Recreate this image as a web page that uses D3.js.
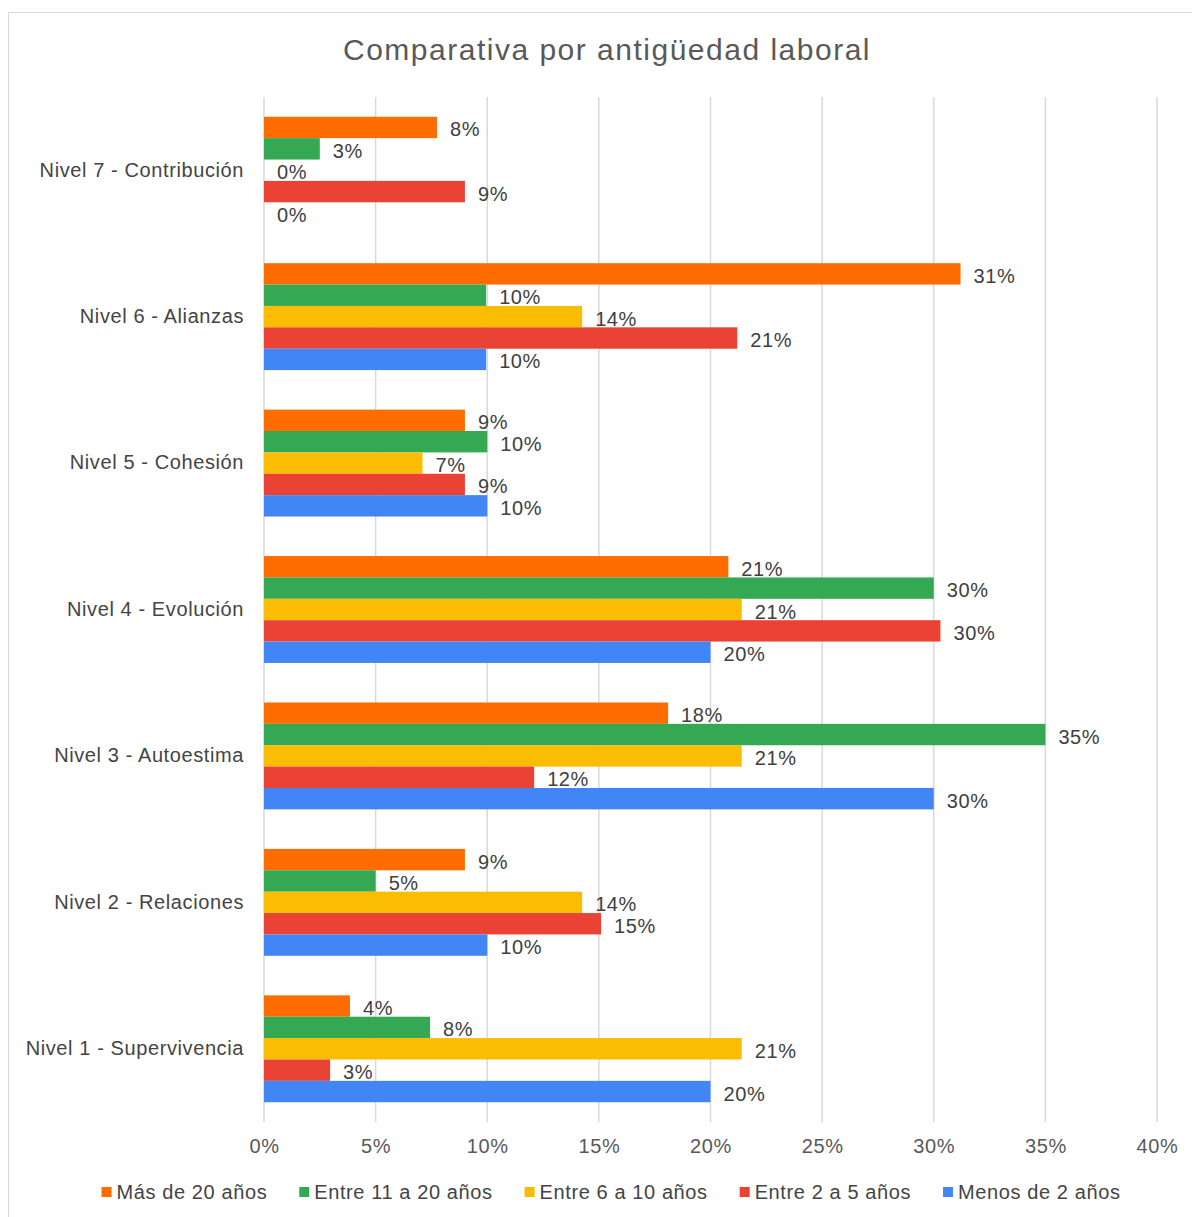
<!DOCTYPE html>
<html>
<head>
<meta charset="utf-8">
<script src="https://cdnjs.cloudflare.com/ajax/libs/d3/7.8.5/d3.min.js"></script>
<style>
  body { margin: 0; background: #fff; }
  svg text { font-family: "Liberation Sans", Arial, sans-serif; }
</style>
</head>
<body>
<div class="chart"></div>
<script>
// categories, top to bottom
var categories = ['Nivel 7 - Contribución', 'Nivel 6 - Alianzas', 'Nivel 5 - Cohesión',
    'Nivel 4 - Evolución', 'Nivel 3 - Autoestima', 'Nivel 2 - Relaciones', 'Nivel 1 - Supervivencia'];

// series names (bar order inside each group)
var seriesNames = ['Más de 20 años', 'Entre 11 a 20 años', 'Entre 6 a 10 años', 'Entre 2 a 5 años', 'Menos de 2 años'];
var seriesColors = ['#ff6d01', '#34a853', '#fbbc04', '#ea4335', '#4285f4'];

// values in percent
var masDe20 = [7.75, 31.2, 9.0, 20.8, 18.1, 9.0, 3.85];
var entre11a20 = [2.5, 9.95, 10.0, 30.0, 35.0, 5.0, 7.44];
var entre6a10 = [0, 14.25, 7.1, 21.4, 21.4, 14.25, 21.4];
var entre2a5 = [9.0, 21.2, 9.0, 30.3, 12.1, 15.1, 2.96];
var menosDe2 = [0, 9.95, 10.0, 20.0, 30.0, 10.0, 20.0];

// data labels as printed on the chart
var masDe20Labels = ['8%', '31%', '9%', '21%', '18%', '9%', '4%'];
var entre11a20Labels = ['3%', '10%', '10%', '30%', '35%', '5%', '8%'];
var entre6a10Labels = ['0%', '14%', '7%', '21%', '21%', '14%', '21%'];
var entre2a5Labels = ['9%', '21%', '9%', '30%', '12%', '15%', '3%'];
var menosDe2Labels = ['0%', '10%', '10%', '20%', '30%', '10%', '20%'];

var xTicks = [0, 5, 10, 15, 20, 25, 30, 35, 40];

var seriesValues = [masDe20, entre11a20, entre6a10, entre2a5, menosDe2];
var seriesLabels = [masDe20Labels, entre11a20Labels, entre6a10Labels, entre2a5Labels, menosDe2Labels];

var width = 1192;
var height = 1217;
var plotLeft = 264;
var plotRight = 1157;
var plotTop = 97;
var plotBottom = 1122;
var fontSize = '20px';
var spacing = '0.6px';

var svg = d3.select('.chart').append('svg')
    .attr('width', width)
    .attr('height', height);

// chart border
svg.append('rect')
    .attr('x', 8.5)
    .attr('y', 12.5)
    .attr('width', 1200)
    .attr('height', 1215)
    .attr('fill', '#fff')
    .attr('stroke', '#d9d9d9');

// title
svg.append('text')
    .attr('x', 607)
    .attr('y', 60)
    .attr('text-anchor', 'middle')
    .style('font-size', '30px')
    .style('letter-spacing', '1.5px')
    .style('fill', '#595959')
    .text('Comparativa por antigüedad laboral');

var xScale = d3.scaleLinear()
    .domain([0, 40])
    .range([plotLeft, plotRight]);

var yScale = d3.scaleBand()
    .domain(categories)
    .range([plotTop, plotBottom])
    .paddingInner(0.27)
    .paddingOuter(0.135);

var innerScale = d3.scaleBand()
    .domain(d3.range(seriesNames.length))
    .range([0, yScale.bandwidth()]);

// gridlines
svg.append('g')
    .selectAll('line')
    .data(xTicks)
    .enter()
    .append('line')
    .attr('x1', function(d) { return xScale(d); })
    .attr('x2', function(d) { return xScale(d); })
    .attr('y1', plotTop)
    .attr('y2', plotBottom)
    .attr('stroke', '#d9d9d9')
    .attr('stroke-width', 1.5);

// x axis labels
var xAxis = d3.axisBottom(xScale)
    .tickValues(xTicks)
    .tickSize(0)
    .tickPadding(17)
    .tickFormat(function(d) { return d + '%'; });

var xAxisG = svg.append('g')
    .attr('transform', 'translate(0,' + plotBottom + ')')
    .call(xAxis);
xAxisG.select('.domain').remove();
xAxisG.selectAll('text')
    .style('font-size', fontSize)
    .style('letter-spacing', spacing)
    .style('fill', '#595959')
    .style('font-family', '"Liberation Sans", Arial, sans-serif');

// y axis labels
var yAxis = d3.axisLeft(yScale)
    .tickSize(0)
    .tickPadding(20);

var yAxisG = svg.append('g')
    .attr('transform', 'translate(' + plotLeft + ',0)')
    .call(yAxis);
yAxisG.select('.domain').remove();
yAxisG.selectAll('text')
    .style('font-size', fontSize)
    .style('letter-spacing', spacing)
    .style('fill', '#444')
    .style('font-family', '"Liberation Sans", Arial, sans-serif');

// bars
var rows = [];
categories.forEach(function(c, ci) {
    seriesValues.forEach(function(vals, si) {
        rows.push({ cat: c, s: si, value: vals[ci], label: seriesLabels[si][ci] });
    });
});

svg.append('g')
    .selectAll('rect')
    .data(rows)
    .enter()
    .append('rect')
    .attr('x', xScale(0))
    .attr('y', function(d) { return yScale(d.cat) + innerScale(d.s); })
    .attr('width', function(d) { return xScale(d.value) - xScale(0); })
    .attr('height', innerScale.bandwidth())
    .attr('fill', function(d) { return seriesColors[d.s]; });

// data labels
svg.append('g')
    .selectAll('text')
    .data(rows)
    .enter()
    .append('text')
    .attr('x', function(d) { return xScale(d.value) + 13; })
    .attr('y', function(d) { return yScale(d.cat) + innerScale(d.s) + innerScale.bandwidth() / 2 + 2; })
    .attr('dy', '0.35em')
    .style('font-size', fontSize)
    .style('letter-spacing', spacing)
    .style('fill', '#404040')
    .text(function(d) { return d.label; });

// legend
var legend = svg.append('g');
var legendX = 0;
var items = legend.selectAll('g')
    .data(seriesNames)
    .enter()
    .append('g');

items.append('rect')
    .attr('width', 10)
    .attr('height', 10)
    .attr('y', -5)
    .attr('fill', function(d, i) { return seriesColors[i]; });

items.append('text')
    .attr('x', 15)
    .attr('dy', '0.35em')
    .style('font-size', fontSize)
    .style('letter-spacing', spacing)
    .style('fill', '#444')
    .text(function(d) { return d; });

items.each(function() {
    var g = d3.select(this);
    g.attr('transform', 'translate(' + legendX + ',0)');
    legendX += 15 + g.select('text').node().getComputedTextLength() + 32;
});
legendX -= 32;
legend.attr('transform', 'translate(' + (611 - legendX / 2) + ',1192)');
</script>
</body>
</html>
